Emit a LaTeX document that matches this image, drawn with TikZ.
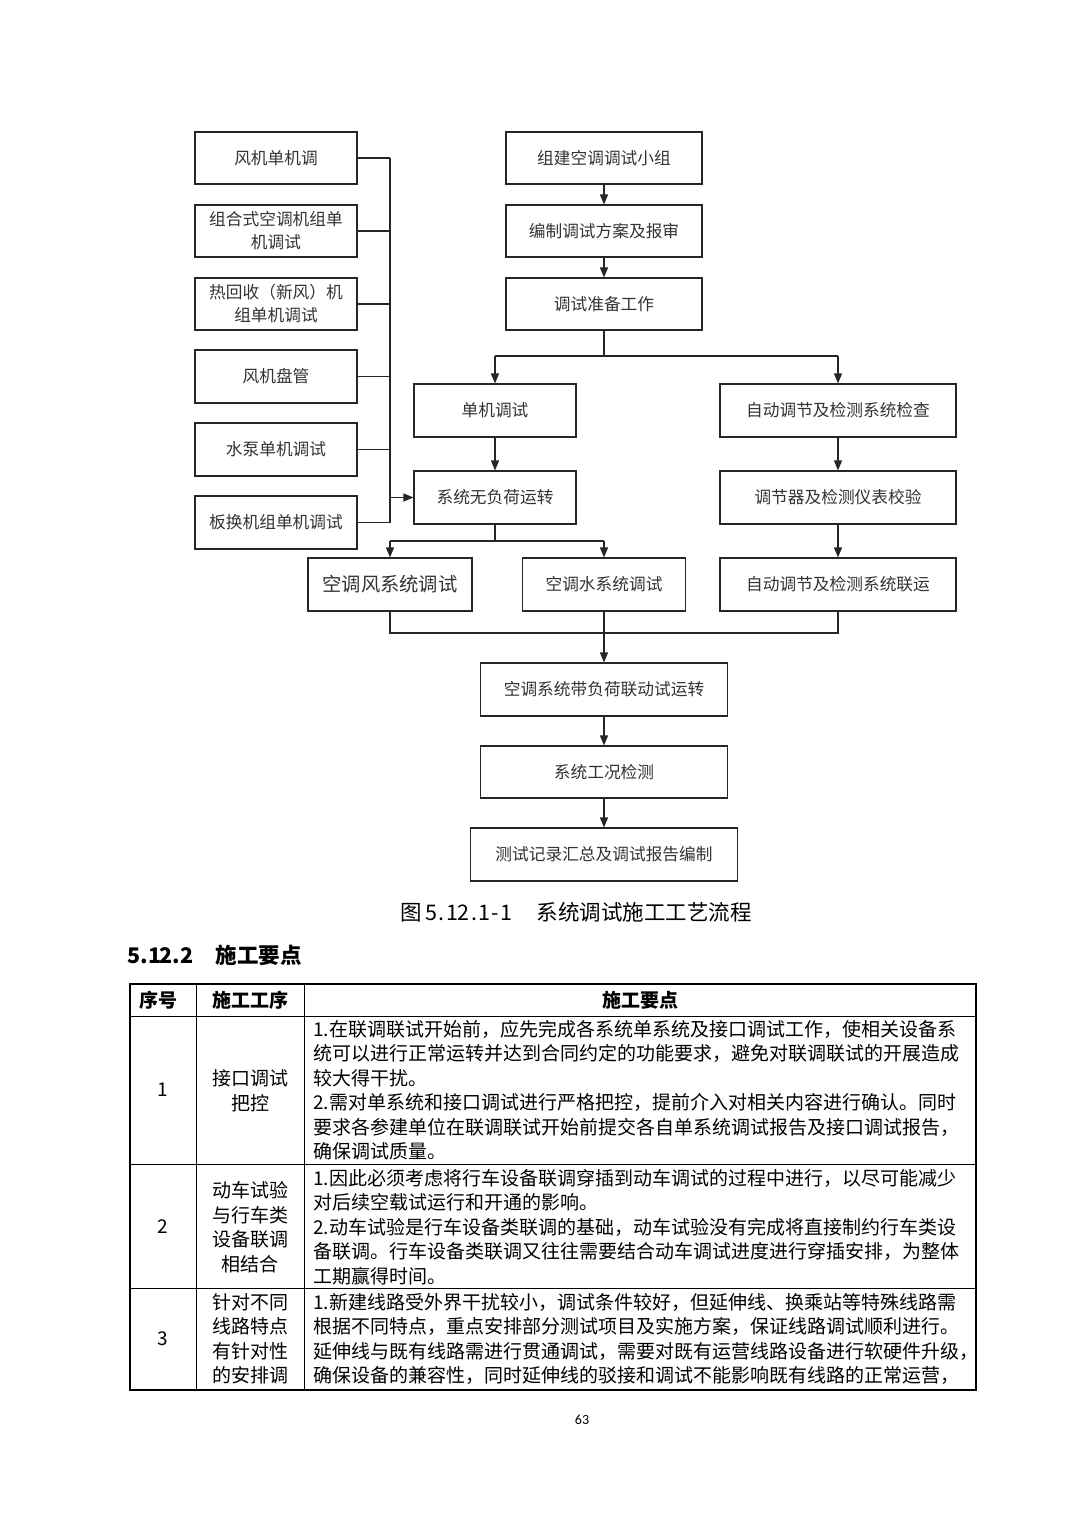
\documentclass[tikz,border=0pt]{standalone}
\usepackage{fontspec}
\newfontfamily\cjk{Noto Sans CJK SC}
\newfontfamily\pnfont{Carlito}
\usetikzlibrary{arrows.meta,calc}
\def\hwseq#1{\hwseqi#1\relax}
\def\hwseqi#1{\ifx#1\relax\else\makebox[0.5em]{#1}\expandafter\hwseqi\fi}
\begin{document}
\begin{tikzpicture}[x=1pt,y=-1pt,
  box/.style={draw=black!85, line width=1.1pt, inner sep=0pt, align=center, text=black!80,
    font=\cjk\fontsize{16.7}{23}\selectfont},
  ln/.style={line width=1.2pt, draw=black!85},
  arr/.style={ln, -{Triangle[length=10pt,width=8pt]}},
  tbl/.style={inner sep=0pt, font=\cjk\fontsize{19}{24.5}\selectfont},
  thin/.style={line width=1pt, draw=black},
]
\fill[white] (0,0) rectangle (1080,1527);
\path[use as bounding box] (0,0) rectangle (1080,1527);

% left column
\node[box, minimum width=162pt, minimum height=52pt] (f1) at (276,158) {风机单机调};
\node[box, minimum width=162pt, minimum height=52pt] (f2) at (276,231) {组合式空调机组单\\机调试};
\node[box, minimum width=162pt, minimum height=52pt] (f3) at (276,304) {热回收（新风）机\\组单机调试};
\node[box, minimum width=162pt, minimum height=53pt] (f4) at (276,376.5) {风机盘管};
\node[box, minimum width=162pt, minimum height=53pt] (f5) at (276,449.5) {水泵单机调试};
\node[box, minimum width=162pt, minimum height=53pt] (f6) at (276,522.5) {板换机组单机调试};

% centre column
\node[box, minimum width=196pt, minimum height=52pt] (c1) at (604,158) {组建空调调试小组};
\node[box, minimum width=196pt, minimum height=52pt] (c2) at (604,231) {编制调试方案及报审};
\node[box, minimum width=196pt, minimum height=52pt] (c3) at (604,304) {调试准备工作};

\node[box, minimum width=162pt, minimum height=53pt] (a1) at (495,410.5) {单机调试};
\node[box, minimum width=162pt, minimum height=53pt] (a2) at (495,497.5) {系统无负荷运转};
\node[box, minimum width=236pt, minimum height=53pt] (b1) at (838,410.5) {自动调节及检测系统检查};
\node[box, minimum width=236pt, minimum height=53pt] (b2) at (838,497.5) {调节器及检测仪表校验};
\node[box, minimum width=236pt, minimum height=53pt] (b3) at (838,584.5) {自动调节及检测系统联运};

\node[box, minimum width=164pt, minimum height=53pt, font=\cjk\fontsize{19.3}{23}\selectfont] (w1) at (390,584.5) {空调风系统调试};
\node[box, minimum width=163pt, minimum height=53pt] (w2) at (604,584.5) {空调水系统调试};

\node[box, minimum width=247pt, minimum height=53pt] (d1) at (604,689.5) {空调系统带负荷联动试运转};
\node[box, minimum width=247pt, minimum height=52pt] (d2) at (604,772) {系统工况检测};
\node[box, minimum width=267pt, minimum height=53pt] (d3) at (604,854.5) {测试记录汇总及调试报告编制};

% left bus
\coordinate (bus) at (390,0);
\foreach \n in {f1,f2,f3,f4,f5,f6} {\draw[ln] (\n.east) -- (\n.east -| bus);}
\draw[ln] (f1.east -| bus) -- (f6.east -| bus);
\draw[arr] (a2.west -| bus) -- (a2.west);

% centre arrows
\draw[arr] (c1) -- (c2);
\draw[arr] (c2) -- (c3);
\coordinate (sp1) at (604,356);
\draw[ln] (c3.south) -- (c3.south |- sp1);
\draw[ln] (a1.north |- sp1) -- (b1.north |- sp1);
\draw[arr] (a1.north |- sp1) -- (a1.north);
\draw[arr] (b1.north |- sp1) -- (b1.north);
\draw[arr] (a1) -- (a2);
\draw[arr] (b1) -- (b2);
\draw[arr] (b2) -- (b3);

\coordinate (sp2) at (495,541);
\draw[ln] (a2.south) -- (a2.south |- sp2);
\draw[ln] (w1.north |- sp2) -- (w2.north |- sp2);
\draw[arr] (w1.north |- sp2) -- (w1.north);
\draw[arr] (w2.north |- sp2) -- (w2.north);

\coordinate (mg) at (604,633);
\draw[ln] (w1.south) -- (w1.south |- mg) -- (b3.south |- mg) -- (b3.south);
\draw[arr] (w2.south) -- (d1.north);
\draw[arr] (d1) -- (d2);
\draw[arr] (d2) -- (d3);

% caption and heading
\node[inner sep=0pt, font=\cjk\fontsize{21.5}{24}\selectfont] (cap) at (576,912) {图\hspace{4pt}\hwseq{5.12.1-1}\hspace{25pt}系统调试施工工艺流程};
\node[inner sep=0pt, anchor=west, font=\cjk\bfseries\fontsize{21.5}{24}\selectfont] (hd) at (128,955) {\hwseq{5.12.2}\hspace{23pt}施工要点};

% table
\draw[thin] (130,1016) -- (976,1016);
\draw[thin] (130,1164) -- (976,1164);
\draw[thin] (130,1288) -- (976,1288);
\draw[thin] (196,984) -- (196,1390);
\draw[thin] (304,984) -- (304,1390);
\draw[line width=2.4pt] (130,984) rectangle (976,1390);

\node[tbl, font=\cjk\bfseries\fontsize{19}{24.5}\selectfont] (h1) at (158,1000) {序号};
\node[tbl, font=\cjk\bfseries\fontsize{19}{24.5}\selectfont] (h2) at (250,1000) {施工工序};
\node[tbl, font=\cjk\bfseries\fontsize{19}{24.5}\selectfont] (h3) at (640,1000) {施工要点};

\node[tbl] (n1) at (163,1090) {1};
\node[tbl] (n2) at (163,1227) {2};
\node[tbl] (n3) at (163,1339) {3};

\node[tbl, align=center] (p1) at (250,1091) {接口调试\\把控};
\node[tbl, align=center] (p2) at (250,1227) {动车试验\\与行车类\\设备联调\\相结合};
\node[tbl, align=center] (p3) at (250,1339) {针对不同\\线路特点\\有针对性\\的安排调};

\node[tbl, align=left, anchor=west] (t1) at (313,1090) {1.在联调联试开始前，应先完成各系统单系统及接口调试工作，使相关设备系\\统可以进行正常运转并达到合同约定的功能要求，避免对联调联试的开展造成\\较大得干扰。\\2.需对单系统和接口调试进行严格把控，提前介入对相关内容进行确认。同时\\要求各参建单位在联调联试开始前提交各自单系统调试报告及接口调试报告，\\确保调试质量。};
\node[tbl, align=left, anchor=west] (t2) at (313,1227) {1.因此必须考虑将行车设备联调穿插到动车调试的过程中进行，以尽可能减少\\对后续空载试运行和开通的影响。\\2.动车试验是行车设备类联调的基础，动车试验没有完成将直接制约行车类设\\备联调。行车设备类联调又往往需要结合动车调试进度进行穿插安排，为整体\\工期赢得时间。};
\node[tbl, align=left, anchor=west] (t3) at (313,1339) {1.新建线路受外界干扰较小，调试条件较好，但延伸线、换乘站等特殊线路需\\根据不同特点，重点安排部分测试项目及实施方案，保证线路调试顺利进行。\\延伸线与既有线路需进行贯通调试，需要对既有运营线路设备进行软硬件升级，\\确保设备的兼容性，同时延伸线的驳接和调试不能影响既有线路的正常运营，};

\node[inner sep=0pt, font=\pnfont\fontsize{14}{16}\selectfont] (pg) at (582,1420) {63};
\end{tikzpicture}
\end{document}
